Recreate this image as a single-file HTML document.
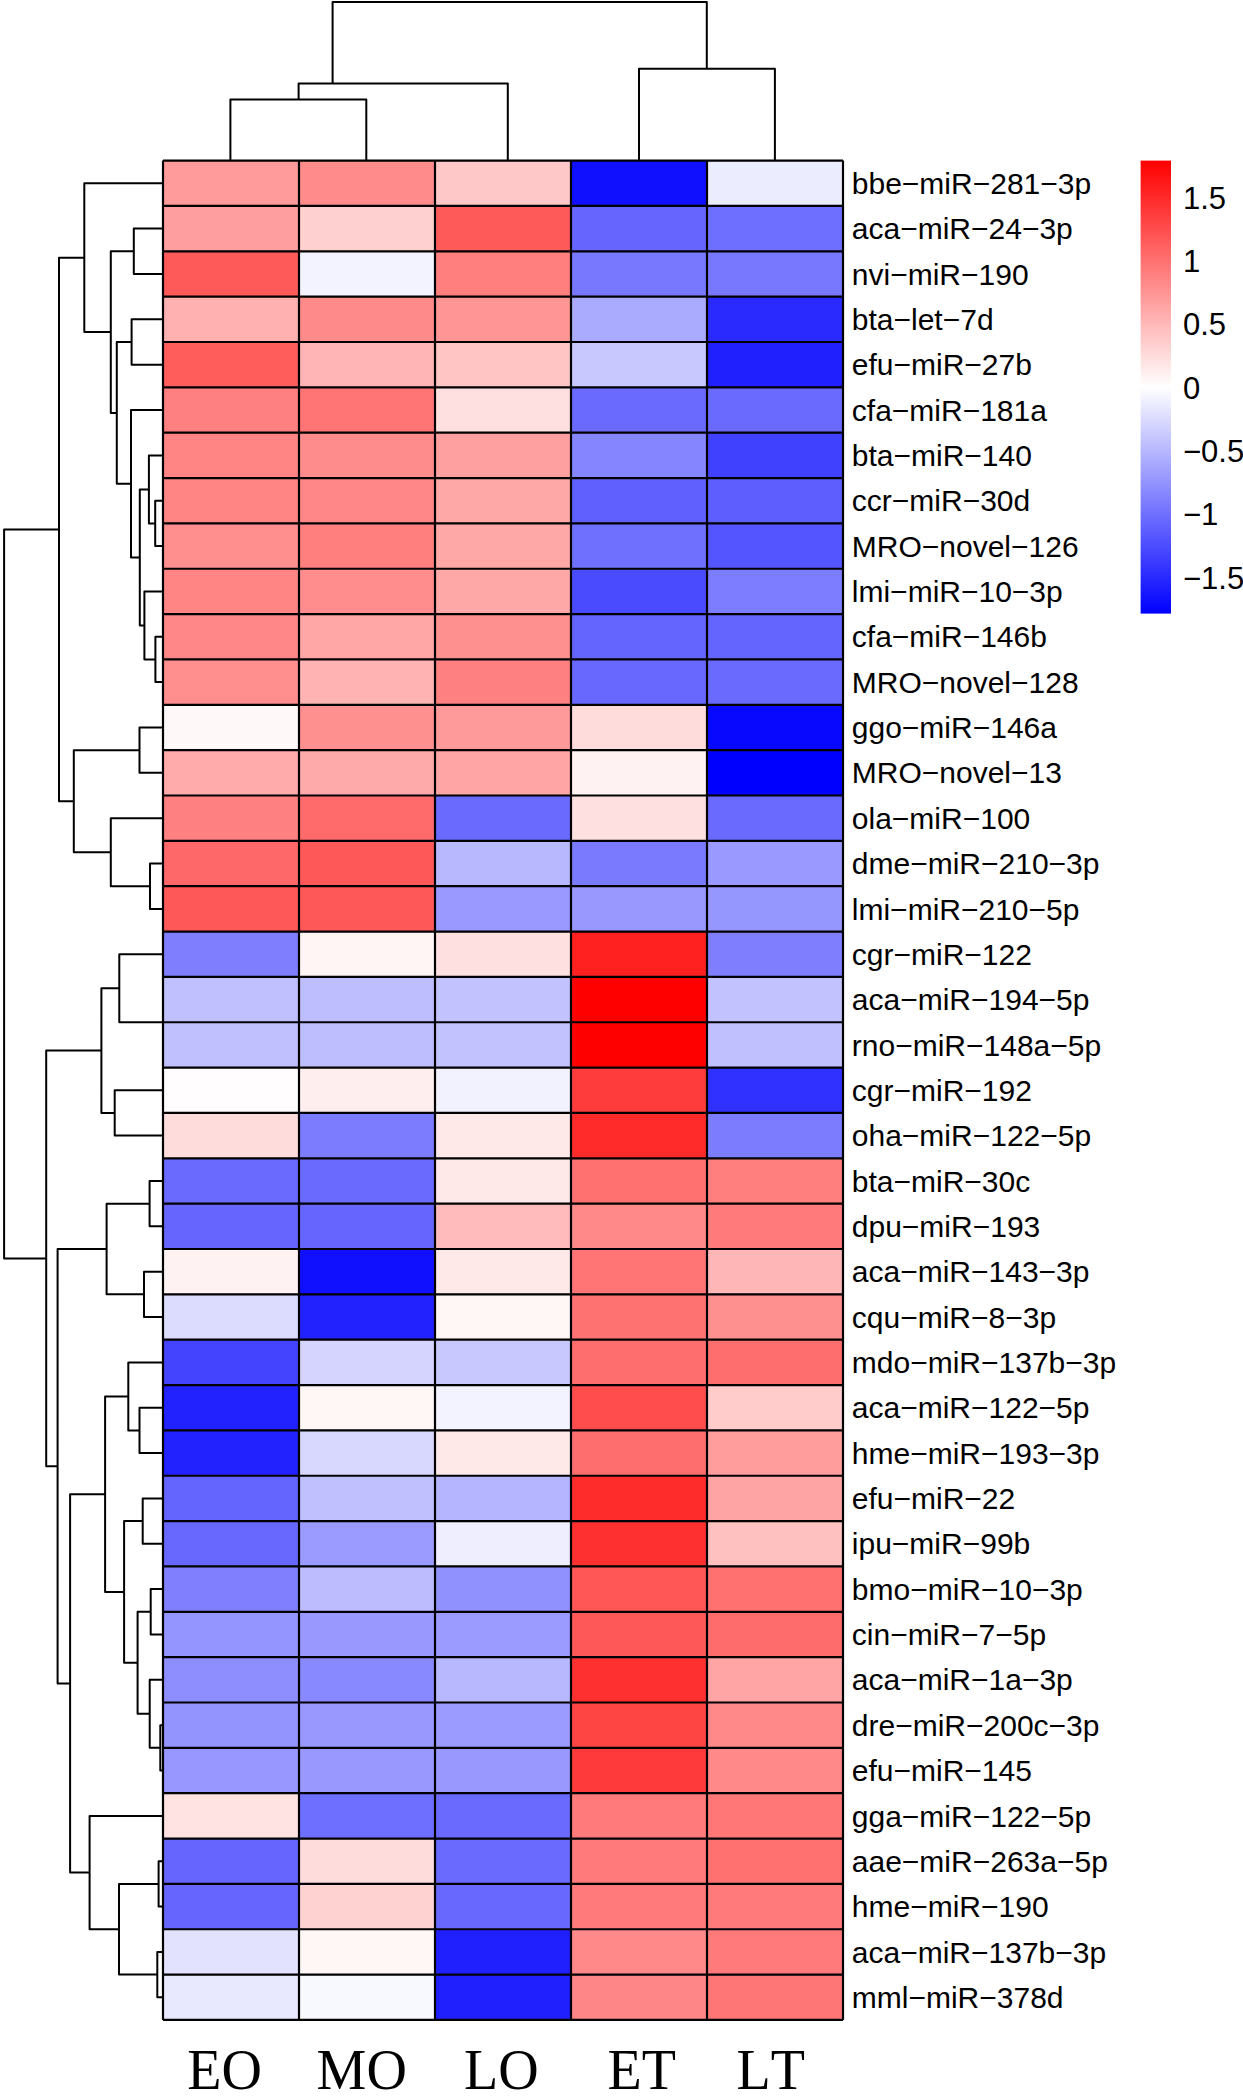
<!DOCTYPE html>
<html><head><meta charset="utf-8"><style>
html,body{margin:0;padding:0;background:#fff;}
svg{display:block;}
text{font-family:"Liberation Sans",sans-serif;}
.cl{font-family:"Liberation Serif",serif;font-kerning:none;}
</style></head><body>
<svg width="1243" height="2096" viewBox="0 0 1243 2096">
<defs><linearGradient id="g" x1="0" y1="0" x2="0" y2="1">
<stop offset="0" stop-color="#FF0000"/><stop offset="0.5" stop-color="#FFFFFF"/><stop offset="1" stop-color="#0000FF"/>
</linearGradient></defs>

<rect x="163.0" y="160.60" width="136.0" height="45.35" fill="#FF9B9B"/>
<rect x="299.0" y="160.60" width="136.0" height="45.35" fill="#FF8B8B"/>
<rect x="435.0" y="160.60" width="136.0" height="45.35" fill="#FFC8C8"/>
<rect x="571.0" y="160.60" width="136.0" height="45.35" fill="#1010FF"/>
<rect x="707.0" y="160.60" width="136.0" height="45.35" fill="#ECECFF"/>
<rect x="163.0" y="205.95" width="136.0" height="45.35" fill="#FF9E9E"/>
<rect x="299.0" y="205.95" width="136.0" height="45.35" fill="#FFD0D0"/>
<rect x="435.0" y="205.95" width="136.0" height="45.35" fill="#FF5A5A"/>
<rect x="571.0" y="205.95" width="136.0" height="45.35" fill="#6666FF"/>
<rect x="707.0" y="205.95" width="136.0" height="45.35" fill="#6E6EFF"/>
<rect x="163.0" y="251.30" width="136.0" height="45.35" fill="#FF5A5A"/>
<rect x="299.0" y="251.30" width="136.0" height="45.35" fill="#F3F3FF"/>
<rect x="435.0" y="251.30" width="136.0" height="45.35" fill="#FF7E7E"/>
<rect x="571.0" y="251.30" width="136.0" height="45.35" fill="#7878FF"/>
<rect x="707.0" y="251.30" width="136.0" height="45.35" fill="#7878FF"/>
<rect x="163.0" y="296.65" width="136.0" height="45.35" fill="#FFB0B0"/>
<rect x="299.0" y="296.65" width="136.0" height="45.35" fill="#FF8A8A"/>
<rect x="435.0" y="296.65" width="136.0" height="45.35" fill="#FF9595"/>
<rect x="571.0" y="296.65" width="136.0" height="45.35" fill="#AAAAFF"/>
<rect x="707.0" y="296.65" width="136.0" height="45.35" fill="#2A2AFF"/>
<rect x="163.0" y="342.00" width="136.0" height="45.35" fill="#FF5C5C"/>
<rect x="299.0" y="342.00" width="136.0" height="45.35" fill="#FFB5B5"/>
<rect x="435.0" y="342.00" width="136.0" height="45.35" fill="#FFC4C4"/>
<rect x="571.0" y="342.00" width="136.0" height="45.35" fill="#C8C8FF"/>
<rect x="707.0" y="342.00" width="136.0" height="45.35" fill="#2020FF"/>
<rect x="163.0" y="387.35" width="136.0" height="45.35" fill="#FF8080"/>
<rect x="299.0" y="387.35" width="136.0" height="45.35" fill="#FF7575"/>
<rect x="435.0" y="387.35" width="136.0" height="45.35" fill="#FFE0E0"/>
<rect x="571.0" y="387.35" width="136.0" height="45.35" fill="#6A6AFF"/>
<rect x="707.0" y="387.35" width="136.0" height="45.35" fill="#6A6AFF"/>
<rect x="163.0" y="432.70" width="136.0" height="45.35" fill="#FF8585"/>
<rect x="299.0" y="432.70" width="136.0" height="45.35" fill="#FF8C8C"/>
<rect x="435.0" y="432.70" width="136.0" height="45.35" fill="#FFA0A0"/>
<rect x="571.0" y="432.70" width="136.0" height="45.35" fill="#8585FF"/>
<rect x="707.0" y="432.70" width="136.0" height="45.35" fill="#4040FF"/>
<rect x="163.0" y="478.05" width="136.0" height="45.35" fill="#FF8585"/>
<rect x="299.0" y="478.05" width="136.0" height="45.35" fill="#FF8787"/>
<rect x="435.0" y="478.05" width="136.0" height="45.35" fill="#FFA8A8"/>
<rect x="571.0" y="478.05" width="136.0" height="45.35" fill="#6060FF"/>
<rect x="707.0" y="478.05" width="136.0" height="45.35" fill="#5E5EFF"/>
<rect x="163.0" y="523.40" width="136.0" height="45.35" fill="#FF8F8F"/>
<rect x="299.0" y="523.40" width="136.0" height="45.35" fill="#FF7E7E"/>
<rect x="435.0" y="523.40" width="136.0" height="45.35" fill="#FFA8A8"/>
<rect x="571.0" y="523.40" width="136.0" height="45.35" fill="#7070FF"/>
<rect x="707.0" y="523.40" width="136.0" height="45.35" fill="#5555FF"/>
<rect x="163.0" y="568.75" width="136.0" height="45.35" fill="#FF8585"/>
<rect x="299.0" y="568.75" width="136.0" height="45.35" fill="#FF8D8D"/>
<rect x="435.0" y="568.75" width="136.0" height="45.35" fill="#FFA8A8"/>
<rect x="571.0" y="568.75" width="136.0" height="45.35" fill="#4A4AFF"/>
<rect x="707.0" y="568.75" width="136.0" height="45.35" fill="#7D7DFF"/>
<rect x="163.0" y="614.10" width="136.0" height="45.35" fill="#FF8787"/>
<rect x="299.0" y="614.10" width="136.0" height="45.35" fill="#FFA6A6"/>
<rect x="435.0" y="614.10" width="136.0" height="45.35" fill="#FF9090"/>
<rect x="571.0" y="614.10" width="136.0" height="45.35" fill="#6464FF"/>
<rect x="707.0" y="614.10" width="136.0" height="45.35" fill="#6464FF"/>
<rect x="163.0" y="659.45" width="136.0" height="45.35" fill="#FF8E8E"/>
<rect x="299.0" y="659.45" width="136.0" height="45.35" fill="#FFB3B3"/>
<rect x="435.0" y="659.45" width="136.0" height="45.35" fill="#FF8080"/>
<rect x="571.0" y="659.45" width="136.0" height="45.35" fill="#6868FF"/>
<rect x="707.0" y="659.45" width="136.0" height="45.35" fill="#6A6AFF"/>
<rect x="163.0" y="704.80" width="136.0" height="45.35" fill="#FFF8F8"/>
<rect x="299.0" y="704.80" width="136.0" height="45.35" fill="#FF9090"/>
<rect x="435.0" y="704.80" width="136.0" height="45.35" fill="#FF9A9A"/>
<rect x="571.0" y="704.80" width="136.0" height="45.35" fill="#FFDCDC"/>
<rect x="707.0" y="704.80" width="136.0" height="45.35" fill="#0808FF"/>
<rect x="163.0" y="750.15" width="136.0" height="45.35" fill="#FFABAB"/>
<rect x="299.0" y="750.15" width="136.0" height="45.35" fill="#FFAAAA"/>
<rect x="435.0" y="750.15" width="136.0" height="45.35" fill="#FFA5A5"/>
<rect x="571.0" y="750.15" width="136.0" height="45.35" fill="#FFF2F2"/>
<rect x="707.0" y="750.15" width="136.0" height="45.35" fill="#0000FF"/>
<rect x="163.0" y="795.50" width="136.0" height="45.35" fill="#FF8080"/>
<rect x="299.0" y="795.50" width="136.0" height="45.35" fill="#FF6A6A"/>
<rect x="435.0" y="795.50" width="136.0" height="45.35" fill="#6A6AFF"/>
<rect x="571.0" y="795.50" width="136.0" height="45.35" fill="#FFE0E0"/>
<rect x="707.0" y="795.50" width="136.0" height="45.35" fill="#6A6AFF"/>
<rect x="163.0" y="840.85" width="136.0" height="45.35" fill="#FF6868"/>
<rect x="299.0" y="840.85" width="136.0" height="45.35" fill="#FF5858"/>
<rect x="435.0" y="840.85" width="136.0" height="45.35" fill="#B8B8FF"/>
<rect x="571.0" y="840.85" width="136.0" height="45.35" fill="#7A7AFF"/>
<rect x="707.0" y="840.85" width="136.0" height="45.35" fill="#9999FF"/>
<rect x="163.0" y="886.20" width="136.0" height="45.35" fill="#FF5858"/>
<rect x="299.0" y="886.20" width="136.0" height="45.35" fill="#FF5858"/>
<rect x="435.0" y="886.20" width="136.0" height="45.35" fill="#9999FF"/>
<rect x="571.0" y="886.20" width="136.0" height="45.35" fill="#9898FF"/>
<rect x="707.0" y="886.20" width="136.0" height="45.35" fill="#9696FF"/>
<rect x="163.0" y="931.55" width="136.0" height="45.35" fill="#7E7EFF"/>
<rect x="299.0" y="931.55" width="136.0" height="45.35" fill="#FFF5F5"/>
<rect x="435.0" y="931.55" width="136.0" height="45.35" fill="#FFE0E0"/>
<rect x="571.0" y="931.55" width="136.0" height="45.35" fill="#FF2020"/>
<rect x="707.0" y="931.55" width="136.0" height="45.35" fill="#7E7EFF"/>
<rect x="163.0" y="976.90" width="136.0" height="45.35" fill="#C0C0FF"/>
<rect x="299.0" y="976.90" width="136.0" height="45.35" fill="#BEBEFF"/>
<rect x="435.0" y="976.90" width="136.0" height="45.35" fill="#C2C2FF"/>
<rect x="571.0" y="976.90" width="136.0" height="45.35" fill="#FF0000"/>
<rect x="707.0" y="976.90" width="136.0" height="45.35" fill="#C2C2FF"/>
<rect x="163.0" y="1022.25" width="136.0" height="45.35" fill="#C0C0FF"/>
<rect x="299.0" y="1022.25" width="136.0" height="45.35" fill="#BEBEFF"/>
<rect x="435.0" y="1022.25" width="136.0" height="45.35" fill="#C2C2FF"/>
<rect x="571.0" y="1022.25" width="136.0" height="45.35" fill="#FF0000"/>
<rect x="707.0" y="1022.25" width="136.0" height="45.35" fill="#C0C0FF"/>
<rect x="163.0" y="1067.60" width="136.0" height="45.35" fill="#FFFDFD"/>
<rect x="299.0" y="1067.60" width="136.0" height="45.35" fill="#FFEEEE"/>
<rect x="435.0" y="1067.60" width="136.0" height="45.35" fill="#F2F2FF"/>
<rect x="571.0" y="1067.60" width="136.0" height="45.35" fill="#FF3C3C"/>
<rect x="707.0" y="1067.60" width="136.0" height="45.35" fill="#3030FF"/>
<rect x="163.0" y="1112.95" width="136.0" height="45.35" fill="#FFDCDC"/>
<rect x="299.0" y="1112.95" width="136.0" height="45.35" fill="#7C7CFF"/>
<rect x="435.0" y="1112.95" width="136.0" height="45.35" fill="#FFE8E8"/>
<rect x="571.0" y="1112.95" width="136.0" height="45.35" fill="#FF2A2A"/>
<rect x="707.0" y="1112.95" width="136.0" height="45.35" fill="#7C7CFF"/>
<rect x="163.0" y="1158.30" width="136.0" height="45.35" fill="#6A6AFF"/>
<rect x="299.0" y="1158.30" width="136.0" height="45.35" fill="#6A6AFF"/>
<rect x="435.0" y="1158.30" width="136.0" height="45.35" fill="#FFE8E8"/>
<rect x="571.0" y="1158.30" width="136.0" height="45.35" fill="#FF7070"/>
<rect x="707.0" y="1158.30" width="136.0" height="45.35" fill="#FF7E7E"/>
<rect x="163.0" y="1203.65" width="136.0" height="45.35" fill="#6666FF"/>
<rect x="299.0" y="1203.65" width="136.0" height="45.35" fill="#6666FF"/>
<rect x="435.0" y="1203.65" width="136.0" height="45.35" fill="#FFBBBB"/>
<rect x="571.0" y="1203.65" width="136.0" height="45.35" fill="#FF8888"/>
<rect x="707.0" y="1203.65" width="136.0" height="45.35" fill="#FF7B7B"/>
<rect x="163.0" y="1249.00" width="136.0" height="45.35" fill="#FFF2F2"/>
<rect x="299.0" y="1249.00" width="136.0" height="45.35" fill="#1010FF"/>
<rect x="435.0" y="1249.00" width="136.0" height="45.35" fill="#FFE8E8"/>
<rect x="571.0" y="1249.00" width="136.0" height="45.35" fill="#FF7474"/>
<rect x="707.0" y="1249.00" width="136.0" height="45.35" fill="#FFB6B6"/>
<rect x="163.0" y="1294.35" width="136.0" height="45.35" fill="#DCDCFF"/>
<rect x="299.0" y="1294.35" width="136.0" height="45.35" fill="#2222FF"/>
<rect x="435.0" y="1294.35" width="136.0" height="45.35" fill="#FFF6F6"/>
<rect x="571.0" y="1294.35" width="136.0" height="45.35" fill="#FF7272"/>
<rect x="707.0" y="1294.35" width="136.0" height="45.35" fill="#FF9090"/>
<rect x="163.0" y="1339.70" width="136.0" height="45.35" fill="#4444FF"/>
<rect x="299.0" y="1339.70" width="136.0" height="45.35" fill="#D4D4FF"/>
<rect x="435.0" y="1339.70" width="136.0" height="45.35" fill="#C8C8FF"/>
<rect x="571.0" y="1339.70" width="136.0" height="45.35" fill="#FF6E6E"/>
<rect x="707.0" y="1339.70" width="136.0" height="45.35" fill="#FF6E6E"/>
<rect x="163.0" y="1385.05" width="136.0" height="45.35" fill="#2222FF"/>
<rect x="299.0" y="1385.05" width="136.0" height="45.35" fill="#FFF6F6"/>
<rect x="435.0" y="1385.05" width="136.0" height="45.35" fill="#F3F3FF"/>
<rect x="571.0" y="1385.05" width="136.0" height="45.35" fill="#FF4C4C"/>
<rect x="707.0" y="1385.05" width="136.0" height="45.35" fill="#FFCBCB"/>
<rect x="163.0" y="1430.40" width="136.0" height="45.35" fill="#2222FF"/>
<rect x="299.0" y="1430.40" width="136.0" height="45.35" fill="#D8D8FF"/>
<rect x="435.0" y="1430.40" width="136.0" height="45.35" fill="#FFE8E8"/>
<rect x="571.0" y="1430.40" width="136.0" height="45.35" fill="#FF6E6E"/>
<rect x="707.0" y="1430.40" width="136.0" height="45.35" fill="#FF9C9C"/>
<rect x="163.0" y="1475.75" width="136.0" height="45.35" fill="#6464FF"/>
<rect x="299.0" y="1475.75" width="136.0" height="45.35" fill="#C0C0FF"/>
<rect x="435.0" y="1475.75" width="136.0" height="45.35" fill="#B4B4FF"/>
<rect x="571.0" y="1475.75" width="136.0" height="45.35" fill="#FF2C2C"/>
<rect x="707.0" y="1475.75" width="136.0" height="45.35" fill="#FFA4A4"/>
<rect x="163.0" y="1521.10" width="136.0" height="45.35" fill="#6868FF"/>
<rect x="299.0" y="1521.10" width="136.0" height="45.35" fill="#9A9AFF"/>
<rect x="435.0" y="1521.10" width="136.0" height="45.35" fill="#EEEEFF"/>
<rect x="571.0" y="1521.10" width="136.0" height="45.35" fill="#FF3030"/>
<rect x="707.0" y="1521.10" width="136.0" height="45.35" fill="#FFC0C0"/>
<rect x="163.0" y="1566.45" width="136.0" height="45.35" fill="#8080FF"/>
<rect x="299.0" y="1566.45" width="136.0" height="45.35" fill="#BCBCFF"/>
<rect x="435.0" y="1566.45" width="136.0" height="45.35" fill="#9090FF"/>
<rect x="571.0" y="1566.45" width="136.0" height="45.35" fill="#FF5656"/>
<rect x="707.0" y="1566.45" width="136.0" height="45.35" fill="#FF7070"/>
<rect x="163.0" y="1611.80" width="136.0" height="45.35" fill="#9595FF"/>
<rect x="299.0" y="1611.80" width="136.0" height="45.35" fill="#9898FF"/>
<rect x="435.0" y="1611.80" width="136.0" height="45.35" fill="#9A9AFF"/>
<rect x="571.0" y="1611.80" width="136.0" height="45.35" fill="#FF5858"/>
<rect x="707.0" y="1611.80" width="136.0" height="45.35" fill="#FF6C6C"/>
<rect x="163.0" y="1657.15" width="136.0" height="45.35" fill="#8E8EFF"/>
<rect x="299.0" y="1657.15" width="136.0" height="45.35" fill="#8888FF"/>
<rect x="435.0" y="1657.15" width="136.0" height="45.35" fill="#B8B8FF"/>
<rect x="571.0" y="1657.15" width="136.0" height="45.35" fill="#FF3030"/>
<rect x="707.0" y="1657.15" width="136.0" height="45.35" fill="#FFA5A5"/>
<rect x="163.0" y="1702.50" width="136.0" height="45.35" fill="#9494FF"/>
<rect x="299.0" y="1702.50" width="136.0" height="45.35" fill="#9898FF"/>
<rect x="435.0" y="1702.50" width="136.0" height="45.35" fill="#9A9AFF"/>
<rect x="571.0" y="1702.50" width="136.0" height="45.35" fill="#FF4444"/>
<rect x="707.0" y="1702.50" width="136.0" height="45.35" fill="#FF8888"/>
<rect x="163.0" y="1747.85" width="136.0" height="45.35" fill="#9797FF"/>
<rect x="299.0" y="1747.85" width="136.0" height="45.35" fill="#9898FF"/>
<rect x="435.0" y="1747.85" width="136.0" height="45.35" fill="#9898FF"/>
<rect x="571.0" y="1747.85" width="136.0" height="45.35" fill="#FF3A3A"/>
<rect x="707.0" y="1747.85" width="136.0" height="45.35" fill="#FF8888"/>
<rect x="163.0" y="1793.20" width="136.0" height="45.35" fill="#FFE2E2"/>
<rect x="299.0" y="1793.20" width="136.0" height="45.35" fill="#6E6EFF"/>
<rect x="435.0" y="1793.20" width="136.0" height="45.35" fill="#6A6AFF"/>
<rect x="571.0" y="1793.20" width="136.0" height="45.35" fill="#FF7A7A"/>
<rect x="707.0" y="1793.20" width="136.0" height="45.35" fill="#FF7777"/>
<rect x="163.0" y="1838.55" width="136.0" height="45.35" fill="#6666FF"/>
<rect x="299.0" y="1838.55" width="136.0" height="45.35" fill="#FFDCDC"/>
<rect x="435.0" y="1838.55" width="136.0" height="45.35" fill="#6A6AFF"/>
<rect x="571.0" y="1838.55" width="136.0" height="45.35" fill="#FF7A7A"/>
<rect x="707.0" y="1838.55" width="136.0" height="45.35" fill="#FF7070"/>
<rect x="163.0" y="1883.90" width="136.0" height="45.35" fill="#6666FF"/>
<rect x="299.0" y="1883.90" width="136.0" height="45.35" fill="#FFD2D2"/>
<rect x="435.0" y="1883.90" width="136.0" height="45.35" fill="#6868FF"/>
<rect x="571.0" y="1883.90" width="136.0" height="45.35" fill="#FF7A7A"/>
<rect x="707.0" y="1883.90" width="136.0" height="45.35" fill="#FF7A7A"/>
<rect x="163.0" y="1929.25" width="136.0" height="45.35" fill="#E2E2FF"/>
<rect x="299.0" y="1929.25" width="136.0" height="45.35" fill="#FFF6F6"/>
<rect x="435.0" y="1929.25" width="136.0" height="45.35" fill="#2020FF"/>
<rect x="571.0" y="1929.25" width="136.0" height="45.35" fill="#FF8888"/>
<rect x="707.0" y="1929.25" width="136.0" height="45.35" fill="#FF7A7A"/>
<rect x="163.0" y="1974.60" width="136.0" height="45.35" fill="#E8E8FF"/>
<rect x="299.0" y="1974.60" width="136.0" height="45.35" fill="#F8F8FF"/>
<rect x="435.0" y="1974.60" width="136.0" height="45.35" fill="#2020FF"/>
<rect x="571.0" y="1974.60" width="136.0" height="45.35" fill="#FF8686"/>
<rect x="707.0" y="1974.60" width="136.0" height="45.35" fill="#FF7676"/>
<path d="M163.0 160.60H843.0M163.0 205.95H843.0M163.0 251.30H843.0M163.0 296.65H843.0M163.0 342.00H843.0M163.0 387.35H843.0M163.0 432.70H843.0M163.0 478.05H843.0M163.0 523.40H843.0M163.0 568.75H843.0M163.0 614.10H843.0M163.0 659.45H843.0M163.0 704.80H843.0M163.0 750.15H843.0M163.0 795.50H843.0M163.0 840.85H843.0M163.0 886.20H843.0M163.0 931.55H843.0M163.0 976.90H843.0M163.0 1022.25H843.0M163.0 1067.60H843.0M163.0 1112.95H843.0M163.0 1158.30H843.0M163.0 1203.65H843.0M163.0 1249.00H843.0M163.0 1294.35H843.0M163.0 1339.70H843.0M163.0 1385.05H843.0M163.0 1430.40H843.0M163.0 1475.75H843.0M163.0 1521.10H843.0M163.0 1566.45H843.0M163.0 1611.80H843.0M163.0 1657.15H843.0M163.0 1702.50H843.0M163.0 1747.85H843.0M163.0 1793.20H843.0M163.0 1838.55H843.0M163.0 1883.90H843.0M163.0 1929.25H843.0M163.0 1974.60H843.0M163.0 2019.95H843.0M163.0 160.6V2019.95M299.0 160.6V2019.95M435.0 160.6V2019.95M571.0 160.6V2019.95M707.0 160.6V2019.95M843.0 160.6V2019.95" stroke="#000" stroke-width="2.2" fill="none"/>
<path d="M163.0 228.6H133.8V274.0H163.0M163.0 319.3H131.6V364.7H163.0M163.0 500.7H155.2V546.1H163.0M163.0 455.4H148.9V523.4H155.2M163.0 636.8H155.4V682.1H163.0M163.0 591.4H144.4V659.5H155.4M148.9 489.4H139.8V625.4H144.4M163.0 410.0H131.0V557.4H139.8M131.6 342.0H116.8V483.7H131.0M133.8 251.3H110.8V412.9H116.8M163.0 183.3H84.3V332.1H110.8M163.0 727.5H139.5V772.8H163.0M163.0 863.5H150.0V908.9H163.0M163.0 818.2H110.8V886.2H150.0M139.5 750.2H73.8V852.2H110.8M84.3 257.7H59.0V801.2H73.8M163.0 999.6H163.0V1044.9H163.0M163.0 954.2H119.3V1022.2H163.0M163.0 1090.3H114.7V1135.6H163.0M119.3 988.2H101.4V1113.0H114.7M163.0 1181.0H149.6V1226.3H163.0M163.0 1271.7H144.0V1317.0H163.0M149.6 1203.7H106.6V1294.3H144.0M163.0 1407.7H139.5V1453.1H163.0M163.0 1362.4H128.3V1430.4H139.5M163.0 1498.4H142.7V1543.8H163.0M163.0 1589.1H150.7V1634.5H163.0M163.0 1725.2H160.3V1770.5H163.0M163.0 1679.8H149.7V1747.8H160.3M150.7 1611.8H137.6V1713.8H149.7M142.7 1521.1H124.1V1662.8H137.6M128.3 1396.4H105.1V1592.0H124.1M163.0 1861.2H158.6V1906.6H163.0M163.0 1951.9H157.3V1997.3H163.0M158.6 1883.9H119.0V1974.6H157.3M163.0 1815.9H89.6V1929.2H119.0M105.1 1494.2H70.1V1872.6H89.6M106.6 1249.0H57.6V1683.4H70.1M101.4 1050.6H46.2V1466.2H57.6M59.0 529.4H4.1V1258.4H46.2" stroke="#000" stroke-width="2" fill="none" stroke-linejoin="round" stroke-linecap="round"/>
<path d="M230.4 160V99.4H366.3V160M298.6 99.4V83.4H507.8V160M332.6 83.4V2H706.8V68.8M639 160V68.8H774.9V160" stroke="#000" stroke-width="2" fill="none" stroke-linejoin="round" stroke-linecap="round"/>
<text x="851.8" y="193.9" font-size="30">bbe−miR−281−3p</text>
<text x="851.8" y="239.2" font-size="30">aca−miR−24−3p</text>
<text x="851.8" y="284.6" font-size="30">nvi−miR−190</text>
<text x="851.8" y="329.9" font-size="30">bta−let−7d</text>
<text x="851.8" y="375.3" font-size="30">efu−miR−27b</text>
<text x="851.8" y="420.6" font-size="30">cfa−miR−181a</text>
<text x="851.8" y="466.0" font-size="30">bta−miR−140</text>
<text x="851.8" y="511.3" font-size="30">ccr−miR−30d</text>
<text x="851.8" y="556.7" font-size="30">MRO−novel−126</text>
<text x="851.8" y="602.0" font-size="30">lmi−miR−10−3p</text>
<text x="851.8" y="647.4" font-size="30">cfa−miR−146b</text>
<text x="851.8" y="692.7" font-size="30">MRO−novel−128</text>
<text x="851.8" y="738.1" font-size="30">ggo−miR−146a</text>
<text x="851.8" y="783.4" font-size="30">MRO−novel−13</text>
<text x="851.8" y="828.8" font-size="30">ola−miR−100</text>
<text x="851.8" y="874.1" font-size="30">dme−miR−210−3p</text>
<text x="851.8" y="919.5" font-size="30">lmi−miR−210−5p</text>
<text x="851.8" y="964.8" font-size="30">cgr−miR−122</text>
<text x="851.8" y="1010.2" font-size="30">aca−miR−194−5p</text>
<text x="851.8" y="1055.5" font-size="30">rno−miR−148a−5p</text>
<text x="851.8" y="1100.9" font-size="30">cgr−miR−192</text>
<text x="851.8" y="1146.2" font-size="30">oha−miR−122−5p</text>
<text x="851.8" y="1191.6" font-size="30">bta−miR−30c</text>
<text x="851.8" y="1236.9" font-size="30">dpu−miR−193</text>
<text x="851.8" y="1282.3" font-size="30">aca−miR−143−3p</text>
<text x="851.8" y="1327.6" font-size="30">cqu−miR−8−3p</text>
<text x="851.8" y="1373.0" font-size="30">mdo−miR−137b−3p</text>
<text x="851.8" y="1418.3" font-size="30">aca−miR−122−5p</text>
<text x="851.8" y="1463.7" font-size="30">hme−miR−193−3p</text>
<text x="851.8" y="1509.0" font-size="30">efu−miR−22</text>
<text x="851.8" y="1554.4" font-size="30">ipu−miR−99b</text>
<text x="851.8" y="1599.7" font-size="30">bmo−miR−10−3p</text>
<text x="851.8" y="1645.1" font-size="30">cin−miR−7−5p</text>
<text x="851.8" y="1690.4" font-size="30">aca−miR−1a−3p</text>
<text x="851.8" y="1735.8" font-size="30">dre−miR−200c−3p</text>
<text x="851.8" y="1781.1" font-size="30">efu−miR−145</text>
<text x="851.8" y="1826.5" font-size="30">gga−miR−122−5p</text>
<text x="851.8" y="1871.8" font-size="30">aae−miR−263a−5p</text>
<text x="851.8" y="1917.2" font-size="30">hme−miR−190</text>
<text x="851.8" y="1962.5" font-size="30">aca−miR−137b−3p</text>
<text x="851.8" y="2007.9" font-size="30">mml−miR−378d</text>
<rect x="1140.6" y="160.6" width="30.4" height="453" fill="url(#g)"/>
<text x="1183" y="208.8" font-size="31">1.5</text>
<text x="1183" y="272.1" font-size="31">1</text>
<text x="1183" y="335.4" font-size="31">0.5</text>
<text x="1183" y="398.7" font-size="31">0</text>
<text x="1183" y="462.0" font-size="31">−0.5</text>
<text x="1183" y="525.3" font-size="31">−1</text>
<text x="1183" y="588.6" font-size="31">−1.5</text>
<text class="cl" x="187.2" y="2089.3" font-size="56">EO</text>
<text class="cl" x="316.6" y="2089.3" font-size="56">MO</text>
<text class="cl" x="464.0" y="2089.3" font-size="56">LO</text>
<text class="cl" x="607.6" y="2089.3" font-size="56">ET</text>
<text class="cl" x="736.6" y="2089.3" font-size="56">LT</text>
</svg></body></html>
